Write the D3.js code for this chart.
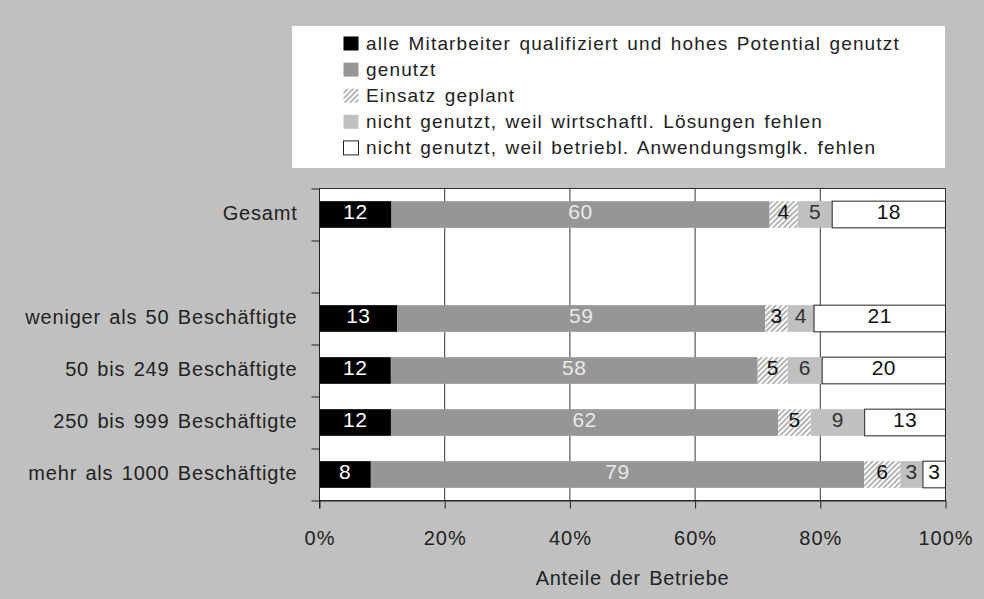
<!DOCTYPE html>
<meta charset="utf-8">
<script src="https://d3js.org/d3.v7.min.js"></script>
<style>
  body { margin: 0; background: #c0c0c0; }
  text { font-family: "Liberation Sans", Arial, sans-serif; fill: #222; }
</style>
<body>
<div id="my_dataviz"></div>
<script>

// categories (the empty one is the gap row under "Gesamt")
var categories = ["Gesamt", "", "weniger als 50 Beschäftigte", "50 bis 249 Beschäftigte",
                  "250 bis 999 Beschäftigte", "mehr als 1000 Beschäftigte"];
var rowsWithData = ["Gesamt", "weniger als 50 Beschäftigte", "50 bis 249 Beschäftigte",
                    "250 bis 999 Beschäftigte", "mehr als 1000 Beschäftigte"];

var seriesNames = ["alle Mitarbeiter qualifiziert und hohes Potential genutzt",
                   "genutzt",
                   "Einsatz geplant",
                   "nicht genutzt, weil wirtschaftl. Lösungen fehlen",
                   "nicht genutzt, weil betriebl. Anwendungsmglk. fehlen"];

// bar shares in %
var shareQualifiziert = [11.5, 12.4, 11.4, 11.4, 8.2];
var shareGenutzt      = [60.4, 58.8, 58.6, 61.8, 78.8];
var shareGeplant      = [4.5, 3.6, 4.8, 5.2, 5.8];
var shareWirtschaftl  = [5.5, 4.2, 5.5, 8.6, 3.6];
var shareBetriebl     = [18.1, 21.0, 19.7, 12.9, 3.6];

// numbers printed in the bars
var labelQualifiziert = [12, 13, 12, 12, 8];
var labelGenutzt      = [60, 59, 58, 62, 79];
var labelGeplant      = [4, 3, 5, 5, 6];
var labelWirtschaftl  = [5, 4, 6, 9, 3];
var labelBetriebl     = [18, 21, 20, 13, 3];

var xTicks = [0, 20, 40, 60, 80, 100];

var shares = [shareQualifiziert, shareGenutzt, shareGeplant, shareWirtschaftl, shareBetriebl];
var labels = [labelQualifiziert, labelGenutzt, labelGeplant, labelWirtschaftl, labelBetriebl];

var data = rowsWithData.map(function(c, i) {
  var row = {cat: c};
  seriesNames.forEach(function(s, j) { row[s] = shares[j][i]; row[s + "_label"] = labels[j][i]; });
  return row;
});

var W = 984, H = 599;
var pLeft = 319.5, pRight = 945.5, pTop = 188.5, pBottom = 500.5;

var svg = d3.select("#my_dataviz").append("svg")
    .attr("width", W).attr("height", H);

svg.append("rect").attr("width", W).attr("height", H).attr("fill", "#c0c0c0");

var defs = svg.append("defs");
var pat = defs.append("pattern")
    .attr("id", "hatch")
    .attr("patternUnits", "userSpaceOnUse")
    .attr("width", 3.8).attr("height", 3.8)
    .attr("patternTransform", "rotate(45)");
pat.append("rect").attr("width", 3.8).attr("height", 3.8).attr("fill", "#ffffff");
pat.append("line").attr("x1", 0.8).attr("y1", 0).attr("x2", 0.8).attr("y2", 3.8)
    .attr("stroke", "#a6a6a6").attr("stroke-width", 1.6);

var fills = ["#000000", "#969696", "url(#hatch)", "#c0c0c0", "#ffffff"];
var labelColors = ["#ffffff", "#e8e8e8", "#111111", "#333333", "#111111"];

var x = d3.scaleLinear().domain([0, 100]).range([pLeft, pRight]);
var y = d3.scaleBand().domain(categories).range([pTop, pBottom])
    .paddingInner(0.487).paddingOuter(0.2435);

// plot area
svg.append("rect")
    .attr("x", pLeft).attr("y", pTop)
    .attr("width", pRight - pLeft).attr("height", pBottom - pTop)
    .attr("fill", "#ffffff").attr("stroke", "#333").attr("stroke-width", 1);

// vertical gridlines
svg.append("g").selectAll("line")
  .data(xTicks.slice(1, -1))
  .enter().append("line")
    .attr("x1", function(d) { return x(d); }).attr("x2", function(d) { return x(d); })
    .attr("y1", pTop).attr("y2", pBottom)
    .attr("stroke", "#333").attr("stroke-width", 1);

// stacked bars
var stackedData = d3.stack()
    .keys(seriesNames)
    .offset(d3.stackOffsetExpand)(data);

var layer = svg.append("g").selectAll("g")
  .data(stackedData)
  .enter().append("g")
    .attr("fill", function(d, i) { return fills[i]; });

layer.selectAll("rect")
  .data(function(d) { return d; })
  .enter().append("rect")
    .attr("x", function(d) { return x(d[0] * 100); })
    .attr("y", function(d) { return y(d.data.cat); })
    .attr("width", function(d) { return x(d[1] * 100) - x(d[0] * 100); })
    .attr("height", y.bandwidth())
    .attr("stroke", function() { return this.parentNode.__data__.index === 4 ? "#222" : "none"; })
    .attr("stroke-width", 1);

layer.selectAll("text")
  .data(function(d) { return d.map(function(p) { p.key = d.key; p.idx = d.index; return p; }); })
  .enter().append("text")
    .attr("x", function(d) { return x((d[0] + d[1]) * 50); })
    .attr("y", function(d) { return y(d.data.cat) + y.bandwidth() / 2 + 4; })
    .attr("text-anchor", "middle")
    .style("font-size", "21px")
    .style("letter-spacing", "0.5px")
    .style("fill", function(d) { return labelColors[d.idx]; })
    .text(function(d) { return d.data[d.key + "_label"]; });

// y axis: category labels
var yAxis = svg.append("g")
    .attr("transform", "translate(" + pLeft + ",0)")
    .call(d3.axisLeft(y).tickSize(0).tickPadding(22));
yAxis.select(".domain").remove();
yAxis.selectAll("text")
    .attr("dy", "0.25em")
    .style("font-size", "20px")
    .style("letter-spacing", "0.8px")
    .style("word-spacing", "2px")
    .attr("fill", "#222");

// y axis: tick marks at band edges
var yEdges = d3.scaleLinear().domain([0, categories.length]).range([pTop, pBottom]);
svg.append("g")
    .attr("transform", "translate(" + pLeft + ",0)")
    .call(d3.axisLeft(yEdges).ticks(categories.length).tickFormat("").tickSize(8).tickSizeOuter(0))
    .call(function(g) { g.select(".domain").attr("d", "M0," + pTop + "V" + (pBottom + 8)); })
    .selectAll("line,path").attr("stroke", "#222");

// x axis
var xAxis = svg.append("g")
    .attr("transform", "translate(0," + pBottom + ")")
    .call(d3.axisBottom(x).tickValues(xTicks)
      .tickFormat(function(d) { return d + "%"; })
      .tickSize(8).tickSizeOuter(0).tickPadding(22));
xAxis.selectAll("line,path").attr("stroke", "#222");
xAxis.selectAll("text")
    .style("font-size", "20px")
    .style("letter-spacing", "1px")
    .attr("fill", "#222");

svg.append("text")
    .attr("x", (pLeft + pRight) / 2).attr("y", 585)
    .attr("text-anchor", "middle")
    .style("font-size", "20px")
    .style("letter-spacing", "0.7px")
    .style("word-spacing", "2px")
    .text("Anteile der Betriebe");

// legend
var legend = svg.append("g");
legend.append("rect")
    .attr("x", 292).attr("y", 26).attr("width", 653).attr("height", 142)
    .attr("fill", "#ffffff");

var item = legend.selectAll("g.item")
  .data(seriesNames)
  .enter().append("g")
    .attr("class", "item")
    .attr("transform", function(d, i) { return "translate(0," + (50 + i * 26.1) + ")"; });

item.append("rect")
    .attr("x", 343.5).attr("y", -13.5)
    .attr("width", 15).attr("height", 14)
    .attr("fill", function(d, i) { return fills[i]; })
    .attr("stroke", function(d, i) { return i === 4 ? "#222" : "none"; });

item.append("text")
    .attr("x", 366).attr("y", 0)
    .style("font-size", "19px")
    .style("letter-spacing", "1.15px")
    .style("word-spacing", "2px")
    .text(function(d) { return d; });

</script>
</body>
